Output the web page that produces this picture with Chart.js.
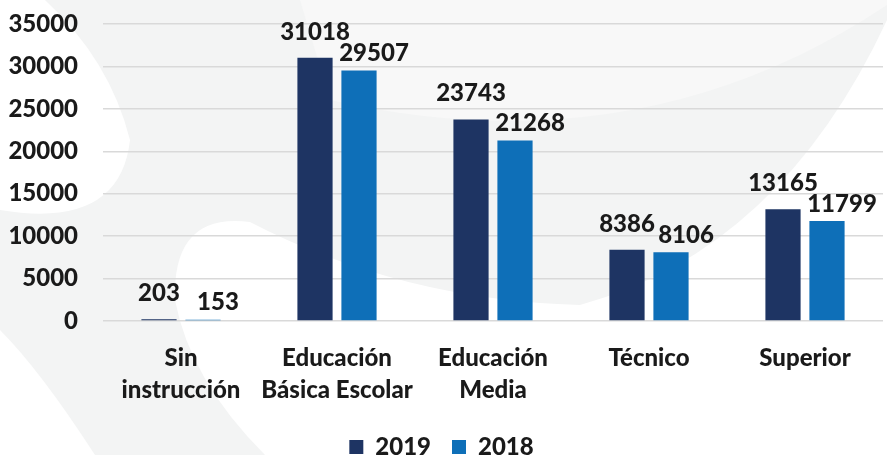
<!DOCTYPE html>
<html>
<head>
<meta charset="utf-8">
<script src="https://cdn.jsdelivr.net/npm/chart.js@4.4.0/dist/chart.umd.min.js"></script>
<style>
  html, body { margin: 0; padding: 0; background: #fff; }
  #wrap { width: 887px; height: 455px; position: relative; }
</style>
</head>
<body>
<div id="wrap"><canvas id="chart"></canvas></div>
<script>
const categories = [
  ['Sin', 'instrucción'],
  ['Educación', 'Básica Escolar'],
  ['Educación', 'Media'],
  'Técnico',
  'Superior',
];
const values2019 = [203, 31018, 23743, 8386, 13165];
const values2018 = [153, 29507, 21268, 8106, 11799];
const yTicks = { min: 0, max: 35000, step: 5000 };

const FONT = 'Lato, "Open Sans", sans-serif';
const WEIGHT = 900;
const TEXT = '#1a1a1a';

// soft background swooshes behind the chart
const backdrop = {
  id: 'backdrop',
  beforeDraw(chart) {
    const ctx = chart.ctx;
    ctx.save();
    ctx.fillStyle = '#ffffff';
    ctx.fillRect(0, 0, chart.width, chart.height);
    ctx.fillStyle = '#f3f4f4';
    ctx.beginPath();
    ctx.moveTo(45, 0);
    ctx.lineTo(887, 0);
    ctx.lineTo(887, 20);
    ctx.quadraticCurveTo(780, 250, 580, 305);
    ctx.quadraticCurveTo(400, 300, 250, 222);
    ctx.quadraticCurveTo(172, 212, 175, 300);
    ctx.quadraticCurveTo(190, 380, 265, 455);
    ctx.lineTo(95, 455);
    ctx.quadraticCurveTo(40, 370, 0, 330);
    ctx.lineTo(0, 210);
    ctx.quadraticCurveTo(120, 230, 130, 140);
    ctx.quadraticCurveTo(110, 60, 45, 0);
    ctx.closePath();
    ctx.fill();
    ctx.fillStyle = '#f8f8f8';
    ctx.beginPath();
    ctx.moveTo(330, 100);
    ctx.quadraticCurveTo(640, 170, 887, 5);
    ctx.lineTo(887, 0);
    ctx.lineTo(300, 0);
    ctx.closePath();
    ctx.fill();
    ctx.restore();
  }
};

// value labels above the bars (second series nudged right like the original)
const barLabels = {
  id: 'barLabels',
  afterDatasetsDraw(chart, args, opts) {
    const ctx = chart.ctx;
    ctx.save();
    ctx.font = WEIGHT + ' 24px ' + FONT;
    ctx.fillStyle = TEXT;
    ctx.textAlign = 'center';
    ctx.textBaseline = 'middle';
    chart.data.datasets.forEach((ds, i) => {
      const meta = chart.getDatasetMeta(i);
      meta.data.forEach((bar, j) => {
        ctx.fillText(String(ds.data[j]), bar.x + opts.dx[i], bar.y - opts.dy[i]);
      });
    });
    ctx.restore();
  }
};

new Chart(document.getElementById('chart'), {
  type: 'bar',
  data: {
    labels: categories,
    datasets: [
      { label: '2019', data: values2019, backgroundColor: '#1e3463' },
      { label: '2018', data: values2018, backgroundColor: '#0e6fb8' },
    ],
  },
  options: {
    responsive: true,
    maintainAspectRatio: false,
    animation: false,
    categoryPercentage: 0.564,
    barPercentage: 0.8,
    layout: { padding: { top: 24, right: 4, bottom: -14, left: 0 } },
    scales: {
      x: {
        grid: { display: false, drawTicks: false },
        border: { display: false },
        ticks: {
          color: TEXT,
          font: { family: FONT, size: 24, weight: WEIGHT, lineHeight: 1.3 },
          padding: 22,
          maxRotation: 0,
          autoSkip: false,
        },
        afterFit(scale) { scale.height = 93; },
      },
      y: {
        min: yTicks.min,
        max: yTicks.max,
        grid: { color: '#d9d9d9', lineWidth: 1.5, drawTicks: false },
        border: { display: false },
        ticks: {
          stepSize: yTicks.step,
          color: TEXT,
          font: { family: FONT, size: 24, weight: WEIGHT },
          padding: 25,
          callback: (v) => String(v),
        },
        afterFit(scale) {
          scale.width = 103;
          scale.paddingTop = 0;
          scale.paddingBottom = 0;
        },
      },
    },
    plugins: {
      legend: {
        position: 'bottom',
        labels: {
          color: TEXT,
          font: { family: FONT, size: 24, weight: WEIGHT },
          boxWidth: 14,
          boxHeight: 14,
          padding: 21,
        },
      },
      tooltip: { enabled: false },
      barLabels: { dx: [0, 15], dy: [26, 17] },
    },
  },
  plugins: [backdrop, barLabels],
});
</script>
</body>
</html>
